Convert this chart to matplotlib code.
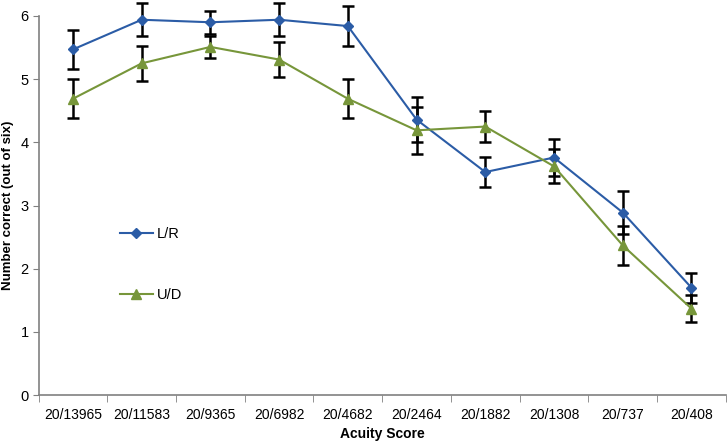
import matplotlib.pyplot as plt
import numpy as np

plt.rcParams['font.family'] = ['Liberation Sans', 'DejaVu Sans']

# Acuity categories and mean scores (out of six)
categories = ['20/13965', '20/11583', '20/9365', '20/6982', '20/4682',
              '20/2464', '20/1882', '20/1308', '20/737', '20/408']
lr_values = [5.47, 5.94, 5.90, 5.94, 5.84, 4.36, 3.53, 3.76, 2.89, 1.70]
lr_errors = [0.31, 0.26, 0.18, 0.26, 0.31, 0.36, 0.24, 0.29, 0.34, 0.24]
ud_values = [4.69, 5.25, 5.51, 5.31, 4.69, 4.19, 4.25, 3.62, 2.37, 1.37]
ud_errors = [0.31, 0.28, 0.18, 0.27, 0.31, 0.37, 0.25, 0.27, 0.31, 0.22]

blue = '#2b5ca6'
green = '#77963a'

fig = plt.figure(figsize=(7.28, 4.43), dpi=100)
ax = fig.add_axes([0.053, 0.108, 0.944, 0.856])

x = np.arange(len(categories))

# Error bars first so lines and markers sit on top
for vals, errs in [(lr_values, lr_errors), (ud_values, ud_errors)]:
    eb = ax.errorbar(x, vals, yerr=errs, fmt='none', ecolor='black',
                     elinewidth=1.8, capsize=4, capthick=1.8, zorder=2)
    for part in eb.lines:
        if part is None:
            continue
        for artist in (part if isinstance(part, tuple) else [part]):
            artist.set_clip_on(False)

ax.plot(x, lr_values, color=blue, marker='D', markersize=5, linewidth=1.5,
        label='L/R', zorder=3, clip_on=False)
ax.plot(x, ud_values, color=green, marker='^', markersize=7, linewidth=1.5,
        label='U/D', zorder=3, clip_on=False)

ax.set_xlim(-0.5, len(categories) - 0.5)
ax.set_ylim(0, 6)
ax.set_yticks(range(0, 7))
ax.set_xticks(x)
ax.set_xticklabels(categories, fontsize=10)
ax.tick_params(axis='x', which='major', length=0, pad=9)
ax.set_xticks(np.arange(-0.5, len(categories), 1.0), minor=True)
ax.tick_params(axis='x', which='minor', length=5, direction='out', color='#808080')
ax.tick_params(axis='y', length=4, direction='out', color='#808080', labelsize=10.5, pad=3)

for side in ['top', 'right']:
    ax.spines[side].set_visible(False)
for side in ['left', 'bottom']:
    ax.spines[side].set_color('#808080')
    ax.spines[side].set_linewidth(1.2)

ax.set_xlabel('Acuity Score', fontsize=10, fontweight='bold', labelpad=4)
ax.set_ylabel('Number correct (out of six)', fontsize=9.5, fontweight='bold')
ax.yaxis.set_label_coords(-0.036, 0.5)

ax.legend(loc='center left', bbox_to_anchor=(0.1, 0.345), frameon=False,
          fontsize=10.5, labelspacing=3.2, handlelength=2.2, handletextpad=0.3)

plt.savefig('out.png', dpi=100)
plt.close()
